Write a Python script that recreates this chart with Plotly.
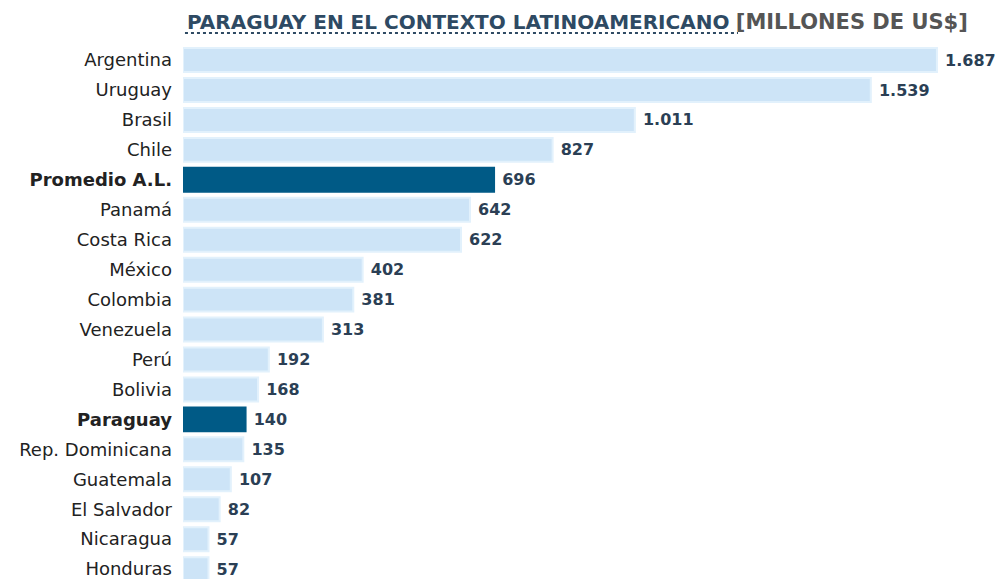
import plotly.graph_objects as go

countries = ["Argentina", "Uruguay", "Brasil", "Chile", "Promedio A.L.", "Panamá",
             "Costa Rica", "México", "Colombia", "Venezuela", "Perú", "Bolivia",
             "Paraguay", "Rep. Dominicana", "Guatemala", "El Salvador", "Nicaragua", "Honduras"]
values = [1687, 1539, 1011, 827, 696, 642, 622, 402, 381, 313, 192, 168, 140, 135, 107, 82, 57, 57]
value_labels = ["1.687", "1.539", "1.011", "827", "696", "642", "622", "402", "381", "313",
                "192", "168", "140", "135", "107", "82", "57", "57"]
highlight = ["Promedio A.L.", "Paraguay"]

LIGHT = "#cde4f7"
LIGHT_EDGE = "#e2f1fc"
DARK = "#005a86"

colors = [DARK if c in highlight else LIGHT for c in countries]
edges = [DARK if c in highlight else LIGHT_EDGE for c in countries]
ticktext = [f"<b>{c}</b>" if c in highlight else c for c in countries]

fig = go.Figure(go.Bar(
    x=values, y=list(range(len(countries))), orientation="h",
    marker=dict(color=colors, line=dict(color=edges, width=2)),
    width=0.8,
    text=[f" <b>{v}</b>" for v in value_labels], textposition="outside",
    textfont=dict(family="DejaVu Sans", size=16, color="#2b3f55"),
    cliponaxis=False, hoverinfo="skip",
))

# page has an 8px body margin, so the figure is 996x571 and offset by 8px
fig.update_layout(
    width=996, height=571,
    margin=dict(l=175, r=0, t=32, b=0, autoexpand=False),
    paper_bgcolor="white", plot_bgcolor="white",
    showlegend=False,
    xaxis=dict(range=[0, 1837], visible=False, fixedrange=True),
    yaxis=dict(range=[17.33, -0.67], tickmode="array", automargin=False,
               tickvals=list(range(len(countries))), ticktext=ticktext,
               showgrid=False, zeroline=False, showline=False, ticks="",
               ticklabelstandoff=10, ticklabeloverflow="allow",
               tickfont=dict(family="DejaVu Sans", size=18, color="#222222")),
    annotations=[dict(
        xref="paper", yref="paper", x=0.0024, y=1.0334, xanchor="left", yanchor="middle",
        showarrow=False,
        text="<b>PARAGUAY EN EL CONTEXTO LATINOAMERICANO</b> <span style='color:#555555;font-size:21px'><b>[MILLONES DE US$]</b></span>",
        font=dict(family="DejaVu Sans", size=20, color="#2e4a63"),
    )],
    shapes=[dict(type="line", xref="paper", yref="paper", x0=0.0024, x1=0.676,
                 y0=1.013, y1=1.013, line=dict(color="#2e4a63", width=2, dash="dot"))],
)

fig.write_html("out.html")
